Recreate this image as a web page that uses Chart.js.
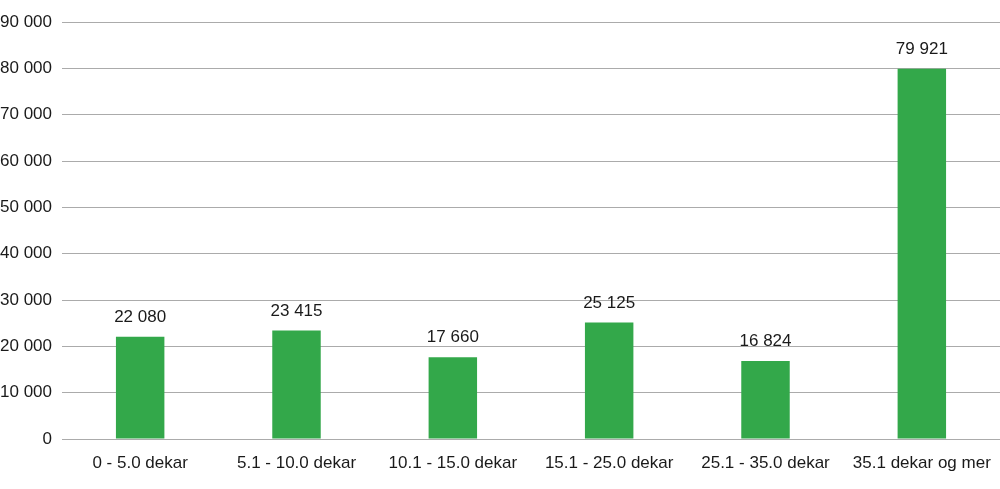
<!DOCTYPE html>
<html>
<head>
<meta charset="utf-8">
<script src="https://cdn.jsdelivr.net/npm/chart.js@4/dist/chart.umd.min.js"></script>
<style>
    html, body { margin: 0; padding: 0; background: #fff; }
    #wrap { width: 1000px; height: 489px; }
</style>
</head>
<body>
<div id="wrap"><canvas id="chart"></canvas></div>
<script>
// Chart data
const categories = ['0 - 5.0 dekar', '5.1 - 10.0 dekar', '10.1 - 15.0 dekar', '15.1 - 25.0 dekar', '25.1 - 35.0 dekar', '35.1 dekar og mer'];
const values = [22080, 23415, 17660, 25125, 16824, 79921];
const yTicks = [0, 10000, 20000, 30000, 40000, 50000, 60000, 70000, 80000, 90000];

function formatNumber(n) {
    return String(n).replace(/\B(?=(\d{3})+(?!\d))/g, ' ');
}

// Simple value labels above bars
const valueLabels = {
    id: 'valueLabels',
    afterDatasetsDraw(chart) {
        const ctx = chart.ctx;
        const meta = chart.getDatasetMeta(0);
        ctx.save();
        ctx.font = '17px "Liberation Sans", Arial, sans-serif';
        ctx.fillStyle = '#1a1a1a';
        ctx.textAlign = 'center';
        ctx.textBaseline = 'bottom';
        meta.data.forEach((bar, i) => {
            ctx.fillText(formatNumber(values[i]), bar.x, bar.y - 11);
        });
        ctx.restore();
    }
};

new Chart(document.getElementById('chart').getContext('2d'), {
    type: 'bar',
    plugins: [valueLabels],
    data: {
        labels: categories,
        datasets: [{
            data: values,
            backgroundColor: '#33a84a',
            borderWidth: 0,
            categoryPercentage: 1.0,
            barPercentage: 0.31
        }]
    },
    options: {
        responsive: true,
        maintainAspectRatio: false,
        animation: false,
        layout: { padding: { top: 22, right: 0, left: 0, bottom: 0 } },
        plugins: {
            legend: { display: false },
            tooltip: { enabled: false }
        },
        scales: {
            x: {
                grid: { display: false, drawTicks: false },
                border: { display: false },
                ticks: {
                    padding: 14,
                    color: '#1a1a1a',
                    maxRotation: 0,
                    font: { family: '"Liberation Sans", Arial, sans-serif', size: 17 }
                },
                afterFit(scale) {
                    scale.height = 50;
                    scale.paddingLeft = 0;
                    scale.paddingRight = 0;
                }
            },
            y: {
                min: 0,
                max: 90000,
                afterBuildTicks(scale) { scale.ticks = yTicks.map(v => ({ value: v })); },
                grid: { color: '#ababab', lineWidth: 1, drawTicks: false },
                border: { display: false },
                ticks: {
                    padding: 10,
                    color: '#1a1a1a',
                    font: { family: '"Liberation Sans", Arial, sans-serif', size: 17 },
                    callback: v => formatNumber(v)
                },
                afterFit(scale) {
                    scale.width = 62;
                    scale.paddingTop = 0;
                    scale.paddingBottom = 0;
                }
            }
        }
    }
});
</script>
</body>
</html>
